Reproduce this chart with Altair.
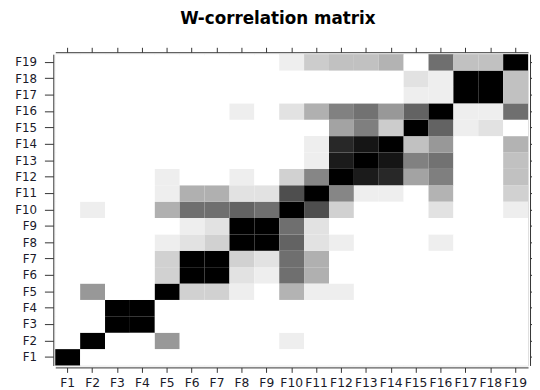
import altair as alt
import pandas as pd

labels = [f"F{i}" for i in range(1, 20)]

# W-correlation values, one list per row (F1..F19), columns F1..F19
r_F1 = [1, 0, 0, 0, 0, 0, 0, 0, 0, 0, 0, 0, 0, 0, 0, 0, 0, 0, 0]
r_F2 = [0, 1, 0, 0, 0.37, 0, 0, 0, 0, 0.06, 0, 0, 0, 0, 0, 0, 0, 0, 0]
r_F3 = [0, 0, 1, 1, 0, 0, 0, 0, 0, 0, 0, 0, 0, 0, 0, 0, 0, 0, 0]
r_F4 = [0, 0, 1, 1, 0, 0, 0, 0, 0, 0, 0, 0, 0, 0, 0, 0, 0, 0, 0]
r_F5 = [0, 0.37, 0, 0, 1, 0.16, 0.16, 0.06, 0, 0.27, 0.06, 0.06, 0, 0, 0, 0, 0, 0, 0]
r_F6 = [0, 0, 0, 0, 0.16, 1, 1, 0.10, 0.06, 0.53, 0.28, 0, 0, 0, 0, 0, 0, 0, 0]
r_F7 = [0, 0, 0, 0, 0.16, 1, 1, 0.16, 0.10, 0.53, 0.28, 0, 0, 0, 0, 0, 0, 0, 0]
r_F8 = [0, 0, 0, 0, 0.06, 0.10, 0.16, 1, 1, 0.58, 0.10, 0.06, 0, 0, 0, 0.06, 0, 0, 0]
r_F9 = [0, 0, 0, 0, 0, 0.06, 0.10, 1, 1, 0.53, 0.10, 0, 0, 0, 0, 0, 0, 0, 0]
r_F10 = [0, 0.06, 0, 0, 0.28, 0.53, 0.53, 0.58, 0.53, 1, 0.67, 0.16, 0, 0, 0, 0.10, 0, 0, 0.06]
r_F11 = [0, 0, 0, 0, 0.06, 0.28, 0.28, 0.10, 0.10, 0.67, 1, 0.44, 0.06, 0.06, 0, 0.27, 0, 0, 0.16]
r_F12 = [0, 0, 0, 0, 0.06, 0, 0, 0.06, 0, 0.16, 0.44, 1, 0.90, 0.84, 0.33, 0.47, 0, 0, 0.22]
r_F13 = [0, 0, 0, 0, 0, 0, 0, 0, 0, 0, 0.06, 0.90, 1, 0.93, 0.46, 0.52, 0, 0, 0.22]
r_F14 = [0, 0, 0, 0, 0, 0, 0, 0, 0, 0, 0.06, 0.84, 0.93, 1, 0.22, 0.37, 0, 0, 0.27]
r_F15 = [0, 0, 0, 0, 0, 0, 0, 0, 0, 0, 0, 0.33, 0.47, 0.18, 1, 0.58, 0.06, 0.10, 0]
r_F16 = [0, 0, 0, 0, 0, 0, 0, 0.06, 0, 0.10, 0.28, 0.46, 0.52, 0.37, 0.58, 1, 0.06, 0.06, 0.53]
r_F17 = [0, 0, 0, 0, 0, 0, 0, 0, 0, 0, 0, 0, 0, 0, 0.06, 0.06, 1, 1, 0.22]
r_F18 = [0, 0, 0, 0, 0, 0, 0, 0, 0, 0, 0, 0, 0, 0, 0.10, 0.06, 1, 1, 0.22]
r_F19 = [0, 0, 0, 0, 0, 0, 0, 0, 0, 0.06, 0.18, 0.22, 0.22, 0.27, 0, 0.53, 0.22, 0.22, 1]

rows = [r_F1, r_F2, r_F3, r_F4, r_F5, r_F6, r_F7, r_F8, r_F9, r_F10,
        r_F11, r_F12, r_F13, r_F14, r_F15, r_F16, r_F17, r_F18, r_F19]

records = []
for ri, row in enumerate(rows):
    for ci, v in enumerate(row):
        records.append({"row": labels[ri], "col": labels[ci], "w": v})
df = pd.DataFrame(records)

xscale = alt.Scale(domain=labels, paddingInner=0, paddingOuter=0)
yscale = alt.Scale(domain=labels[::-1], paddingInner=0, paddingOuter=0)
cscale = alt.Scale(domain=[0, 1], range=["#ffffff", "#000000"])

axis_common = dict(title=None, domain=True, domainColor="#333", domainWidth=1, offset=2,
                   ticks=True, tickColor="#333", tickWidth=1, grid=False,
                   labelFont="DejaVu Sans", labelColor="#1a1a2a")

cells = alt.Chart(df).mark_rect().encode(
    x=alt.X("col:N", scale=xscale,
            axis=alt.Axis(orient="bottom", labelAngle=0, labelPadding=4, tickSize=5,
                          labelFontSize=12.5, **axis_common)),
    y=alt.Y("row:N", scale=yscale,
            axis=alt.Axis(orient="left", labelPadding=8, tickSize=9, labelFontSize=12, **axis_common)),
    color=alt.Color("w:Q", scale=cscale, legend=None),
)

frame_axes = alt.Chart(df).mark_rect(opacity=0).encode(
    x=alt.X("col:N", scale=xscale, axis=alt.Axis(orient="top", labels=False, tickSize=5, **axis_common)),
    y=alt.Y("row:N", scale=yscale, axis=alt.Axis(orient="right", labels=False, tickSize=5, **axis_common)),
)

chart = alt.layer(cells, frame_axes).resolve_axis(
    x="independent", y="independent"
).properties(
    width=480,
    height=316,
    title=alt.TitleParams("W-correlation matrix", font="DejaVu Sans", fontSize=17,
                          fontWeight="bold", color="#000", offset=19, dx=-14),
    autosize=alt.AutoSizeParams(type="none"),
    padding={"left": 48, "top": 44, "right": 4, "bottom": 22},
).configure_view(stroke=None).configure(background="white")

chart.save("out.html", embed_options={"renderer": "svg", "actions": False})
